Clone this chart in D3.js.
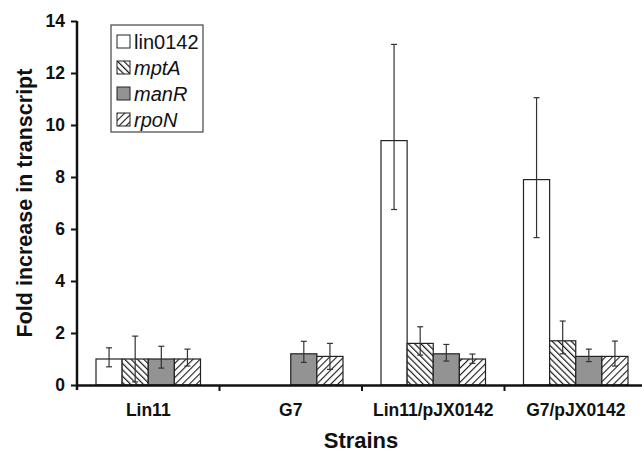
<!DOCTYPE html>
<html>
<head>
<meta charset="utf-8">
<script src="https://cdn.jsdelivr.net/npm/d3@7.9.0/dist/d3.min.js"></script>
<style>
  body { margin: 0; background: #fff; }
  svg text { font-family: Arial, "Liberation Sans", sans-serif; }
</style>
</head>
<body>
<div id="chart"></div>
<script>
// Data
const strains = ["Lin11", "G7", "Lin11/pJX0142", "G7/pJX0142"];
const genes = ["lin0142", "mptA", "manR", "rpoN"];
const italicGenes = ["mptA", "manR", "rpoN"];

// mean fold change per gene, one entry per strain (null = not measured)
const lin0142 = [1.0, null, 9.4, 7.9];
const mptA = [1.0, null, 1.6, 1.7];
const manR = [1.0, 1.2, 1.2, 1.1];
const rpoN = [1.0, 1.1, 1.0, 1.1];

// error bar ends
const lin0142Hi = [1.43, null, 13.1, 11.05];
const lin0142Lo = [0.7, null, 6.75, 5.67];
const mptAHi = [1.88, null, 2.24, 2.46];
const mptALo = [0.12, null, 1.15, 1.2];
const manRHi = [1.49, 1.68, 1.56, 1.38];
const manRLo = [0.65, 0.87, 0.92, 0.9];
const rpoNHi = [1.38, 1.6, 1.19, 1.69];
const rpoNLo = [0.73, 0.6, 0.83, 0.73];

const yTicks = [0, 2, 4, 6, 8, 10, 12, 14];

const width = 642;
const height = 455;

const series = [
  { gene: "lin0142", values: lin0142, hi: lin0142Hi, lo: lin0142Lo },
  { gene: "mptA", values: mptA, hi: mptAHi, lo: mptALo },
  { gene: "manR", values: manR, hi: manRHi, lo: manRLo },
  { gene: "rpoN", values: rpoN, hi: rpoNHi, lo: rpoNLo },
];

const x0 = d3.scaleBand().domain(strains).range([77, 647]).paddingInner(0).paddingOuter(0);
const x1 = d3.scaleBand().domain(genes).range([19, x0.bandwidth() - 19]).padding(0);
const y = d3.scaleLinear().domain([0, 14]).range([385, 21]);

const svg = d3.select("#chart").append("svg")
  .attr("width", width)
  .attr("height", height);

// hatch patterns
const defs = svg.append("defs");
function hatch(id, angle, spacing, sw) {
  const p = defs.append("pattern")
    .attr("id", id)
    .attr("patternUnits", "userSpaceOnUse")
    .attr("width", spacing)
    .attr("height", spacing)
    .attr("patternTransform", `rotate(${angle})`);
  p.append("rect").attr("width", spacing).attr("height", spacing).attr("fill", "#fff");
  p.append("line")
    .attr("x1", 0).attr("y1", 0).attr("x2", 0).attr("y2", spacing)
    .attr("stroke", "#1a1a1a").attr("stroke-width", sw);
}
hatch("hatch-mptA", -45, 4.5, 2.4);
hatch("hatch-rpoN", 45, 5, 2.2);

const fills = {
  lin0142: "#ffffff",
  mptA: "url(#hatch-mptA)",
  manR: "#939393",
  rpoN: "url(#hatch-rpoN)",
};

// bars
const groups = svg.append("g")
  .selectAll("g")
  .data(series)
  .join("g");

const rows = (s) => strains
  .map((st, i) => ({ strain: st, gene: s.gene, v: s.values[i], hi: s.hi[i], lo: s.lo[i] }))
  .filter((d) => d.v !== null);

groups.selectAll("rect")
  .data(rows)
  .join("rect")
  .attr("x", (d) => x0(d.strain) + x1(d.gene))
  .attr("y", (d) => y(d.v))
  .attr("width", x1.bandwidth())
  .attr("height", (d) => y(0) - y(d.v))
  .attr("fill", (d) => fills[d.gene])
  .attr("stroke", "#222")
  .attr("stroke-width", 1.2);

// error bars
const errs = groups.selectAll("g.err")
  .data(rows)
  .join("g")
  .attr("class", "err")
  .attr("stroke", "#333")
  .attr("stroke-width", 1.2);

const cx = (d) => x0(d.strain) + x1(d.gene) + x1.bandwidth() / 2;
errs.append("line")
  .attr("x1", cx).attr("x2", cx)
  .attr("y1", (d) => y(d.hi)).attr("y2", (d) => y(d.lo));
errs.append("line")
  .attr("x1", (d) => cx(d) - 3).attr("x2", (d) => cx(d) + 3)
  .attr("y1", (d) => y(d.hi)).attr("y2", (d) => y(d.hi));
errs.append("line")
  .attr("x1", (d) => cx(d) - 3).attr("x2", (d) => cx(d) + 3)
  .attr("y1", (d) => y(d.lo)).attr("y2", (d) => y(d.lo));

// y axis
const yAxis = svg.append("g")
  .attr("transform", `translate(${x0.range()[0]},0)`)
  .call(d3.axisLeft(y).tickValues(yTicks).tickSize(6).tickPadding(6).tickSizeOuter(0));
yAxis.select(".domain").attr("stroke", "#111").attr("stroke-width", 2.5)
  .attr("d", `M0,${y(14)}V${y(0) + 5}`);
yAxis.selectAll(".tick line").attr("stroke", "#111").attr("stroke-width", 2);
yAxis.selectAll(".tick text")
  .attr("font-size", 17.5).attr("font-weight", "bold").attr("fill", "#111")
  .style("font-family", "Arial, 'Liberation Sans', sans-serif");

// x axis
const xAxis = svg.append("g")
  .attr("transform", `translate(0,${y(0)})`)
  .call(d3.axisBottom(x0).tickSize(0).tickPadding(19).tickSizeOuter(0));
xAxis.select(".domain").attr("stroke", "#111").attr("stroke-width", 2.5);
xAxis.selectAll(".tick text")
  .attr("font-size", 17.5).attr("font-weight", "bold").attr("fill", "#111")
  .style("font-family", "Arial, 'Liberation Sans', sans-serif");
// category divider ticks
xAxis.append("g")
  .selectAll("line")
  .data(strains.slice(1))
  .join("line")
  .attr("x1", (d) => x0(d)).attr("x2", (d) => x0(d))
  .attr("y1", 0).attr("y2", 6)
  .attr("stroke", "#111").attr("stroke-width", 2);

// axis titles
svg.append("text")
  .attr("transform", `translate(26,${y(7)}) rotate(-90)`)
  .attr("text-anchor", "middle")
  .attr("dominant-baseline", "middle")
  .attr("font-size", 21.5).attr("font-weight", "bold").attr("fill", "#111")
  .text("Fold increase in transcript");

svg.append("text")
  .attr("x", 361).attr("y", 448)
  .attr("text-anchor", "middle")
  .attr("font-size", 22).attr("font-weight", "bold").attr("fill", "#111")
  .text("Strains");

// legend
const legend = svg.append("g").attr("transform", "translate(111,25)");
legend.append("rect")
  .attr("width", 92).attr("height", 107)
  .attr("fill", "#fff").attr("stroke", "#444").attr("stroke-width", 1.2);
const items = legend.selectAll("g.item")
  .data(genes)
  .join("g")
  .attr("class", "item")
  .attr("transform", (d, i) => `translate(6,${17 + i * 26})`);
items.append("rect")
  .attr("x", 0).attr("y", -7)
  .attr("width", 13).attr("height", 13)
  .attr("fill", (d) => fills[d])
  .attr("stroke", "#222").attr("stroke-width", 1);
items.append("text")
  .attr("x", 17).attr("y", 0)
  .attr("dominant-baseline", "central")
  .attr("font-size", 20)
  .attr("fill", "#111")
  .attr("font-style", (d) => italicGenes.includes(d) ? "italic" : "normal")
  .text((d) => d);
</script>
</body>
</html>
